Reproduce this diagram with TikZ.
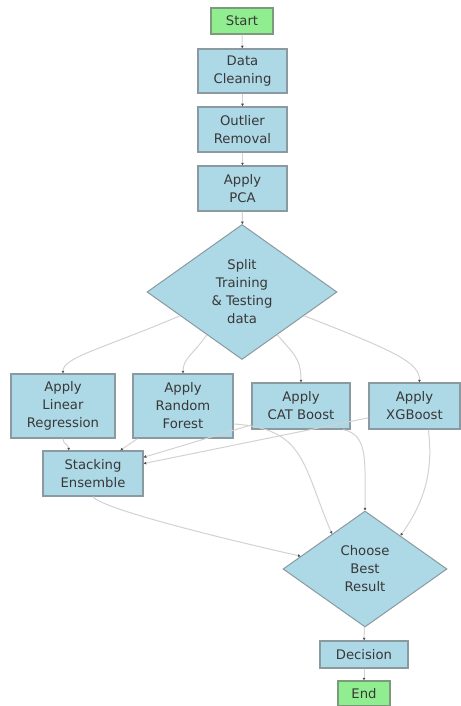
\documentclass[tikz,border=0pt]{standalone}
\usepackage{fontspec}
\setmainfont{DejaVu Sans}
\usetikzlibrary{shapes.geometric,arrows.meta,calc}
\definecolor{boxfill}{HTML}{ADD8E6}
\definecolor{boxline}{HTML}{8A9AA0}
\definecolor{termfill}{HTML}{90EE90}
\definecolor{termline}{HTML}{7C9A7C}
\definecolor{edgecol}{HTML}{D2D2D2}
\definecolor{tipcol}{HTML}{505050}
\tikzset{
  every node/.style={font=\fontsize{13.2}{18}\selectfont, text=black!78, align=center, inner sep=0pt},
  procbox/.style={draw=boxline, fill=boxfill, line width=1.3pt, rectangle},
  termbox/.style={draw=termline, fill=termfill, line width=1.3pt, rectangle},
  decbox/.style={draw=boxline, fill=boxfill, line width=1pt, diamond},
  flow/.style={draw=edgecol, line width=1pt, -{Triangle[length=2.6pt,width=2.6pt,color=tipcol]}}
}
\begin{document}
\begin{tikzpicture}[x=1pt,y=-1pt]
\useasboundingbox (0,0) rectangle (460,706);

% main pipeline
\node[termbox, minimum width=62pt, minimum height=26pt] (start) at (242,21) {Start};
\node[procbox, minimum width=89pt, minimum height=44pt] (clean) at (242.5,71) {Data\\Cleaning};
\node[procbox, minimum width=89pt, minimum height=45pt] (outlier) at (242.5,129.5) {Outlier\\Removal};
\node[procbox, minimum width=89pt, minimum height=45pt] (pca) at (242.5,188.5) {Apply\\PCA};
\node[decbox, minimum width=190pt, minimum height=135pt] (split) at (242,292) {Split\\Training\\\& Testing\\data};

% models
\node[procbox, minimum width=104pt, minimum height=64pt] (lr) at (63,406) {Apply\\Linear\\Regression};
\node[procbox, minimum width=100pt, minimum height=64pt] (rf) at (183,406) {Apply\\Random\\Forest};
\node[procbox, minimum width=98pt, minimum height=46pt] (cat) at (301,406) {Apply\\CAT Boost};
\node[procbox, minimum width=91pt, minimum height=46pt] (xgb) at (414.5,406) {Apply\\XGBoost};
\node[procbox, minimum width=100pt, minimum height=45pt] (stack) at (93,473.5) {Stacking\\Ensemble};

% selection
\node[decbox, minimum width=164pt, minimum height=116pt] (choose) at (365,569) {Choose\\Best\\Result};
\node[procbox, minimum width=88pt, minimum height=27pt] (decision) at (364,654.5) {Decision};
\node[termbox, minimum width=52pt, minimum height=25pt] (endn) at (364,693.5) {End};

% straight links
\draw[flow] (start) -- (clean);
\draw[flow] (clean) -- (outlier);
\draw[flow] (outlier) -- (pca);
\draw[flow] (pca) -- (split);
\draw[flow] (choose) -- (decision);
\draw[flow] (decision) -- (endn);

% split into the four models
\draw[flow] ($(split.west)!0.35!(split.south)$) .. controls +(-75,32) and +(0,-16) .. (lr.north);
\draw[flow] ($(split.west)!0.63!(split.south)$) .. controls +(-12,18) and +(0,-15) .. (rf.north);
\draw[flow] ($(split.east)!0.63!(split.south)$) .. controls +(15,18) and +(0,-25) .. (cat.north);
\draw[flow] ($(split.east)!0.35!(split.south)$) .. controls +(90,35) and +(0,-20) .. ($(xgb.north)+(5,0)$);

% models into the stacking ensemble
\draw[flow] (lr.south) .. controls +(0,6) and +(0,-6) .. ($(stack.north west)!0.26!(stack.north east)$);
\draw[flow] ($(rf.south west)!0.05!(rf.south east)$) -- ($(stack.north west)!0.77!(stack.north east)$);
\draw[flow] ($(cat.west)!0.8!(cat.south west)$) -- ($(stack.north east)!0.3!(stack.east)$);
\draw[flow] ($(xgb.west)!0.5!(xgb.south west)$) -- ($(stack.north east)!0.57!(stack.east)$);

% everything into the final choice
\draw[flow] (stack.south) .. controls +(10,14) and +(-45,-10) .. ($(choose.west)!0.22!(choose.north)$);
\draw[flow] ($(rf.east)!0.55!(rf.south east)$) .. controls +(72,5) and +(-30,-70) .. ($(choose.west)!0.6!(choose.north)$);
\draw[flow] ($(cat.south)!0.85!(cat.south east)$) .. controls +(25,5) and +(0,-50) .. (choose.north);
\draw[flow] ($(xgb.south)!0.3!(xgb.south east)$) .. controls +(5,40) and +(25,-35) .. ($(choose.east)!0.57!(choose.north)$);
\end{tikzpicture}
\end{document}
